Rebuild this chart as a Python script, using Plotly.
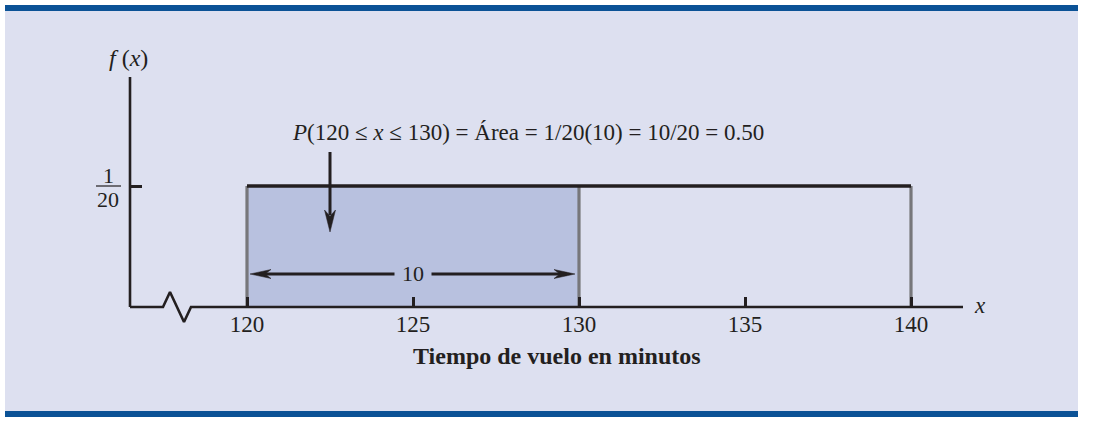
import plotly.graph_objects as go

# ---------------- data ----------------
lower_bound = 120
upper_bound = 140
density = 1 / 20
interval = [120, 130]
x_ticks = [120, 125, 130, 135, 140]
x_tick_labels = ["120", "125", "130", "135", "140"]
pointer_x = 122.5
width_label = "10"
prob_text = "<i>P</i>(120 ≤ <i>x</i> ≤ 130) = Área = 1/20(10) = 10/20 = 0.50"
x_title = "<b>Tiempo de vuelo en minutos</b>"
y_label = "<i>f</i> (<i>x</i>)"
x_label = "<i>x</i>"

# ---------------- layout geometry ----------------
W, H = 1093, 426
PX_X0, PX_PER_X = 247, 33.2      # pixel of x=lower_bound, pixels per unit
PX_Y0, PX_PER_Y = 307, 2420      # pixel of y=0, pixels per unit


def px2x(px):
    return lower_bound + (px - PX_X0) / PX_PER_X


def px2y(py):
    return (PX_Y0 - py) / PX_PER_Y


def x2px(x):
    return PX_X0 + (x - lower_bound) * PX_PER_X


def y2px(y):
    return PX_Y0 - y * PX_PER_Y


INK = "#231f20"
GRAY = "#77777b"
SHADE = "#b8c1df"
PANEL = "#dde0f0"
BAND = "#0b5296"
FONT = "Liberation Serif"


def head(tip_px, dir_xy, length=21, width=10):
    tx, ty = tip_px
    dx, dy = dir_xy
    nx, ny = -dy, dx
    bx, by = tx - length * dx, ty - length * dy
    c1 = (bx + nx * width / 2, by + ny * width / 2)
    c2 = (bx - nx * width / 2, by - ny * width / 2)
    notch = (tx - 0.72 * length * dx, ty - 0.72 * length * dy)
    pts = [(tx, ty), c1, notch, c2, (tx, ty)]
    return [px2x(p[0]) for p in pts], [px2y(p[1]) for p in pts]


fig = go.Figure()

# shaded probability area
fig.add_trace(go.Scatter(x=interval, y=[density, density], mode="lines",
                         fill="tozeroy", fillcolor=SHADE,
                         line=dict(width=0), hoverinfo="skip"))

# gray vertical edges
vx, vy = [], []
for v in [lower_bound, interval[1], upper_bound]:
    vx += [v, v, None]
    vy += [0, density, None]
fig.add_trace(go.Scatter(x=vx, y=vy, mode="lines",
                         line=dict(color=GRAY, width=3.2), hoverinfo="skip"))

# density line
fig.add_trace(go.Scatter(x=[lower_bound, upper_bound], y=[density, density],
                         mode="lines", line=dict(color=INK, width=3.6),
                         hoverinfo="skip"))

# x axis line with break
ax_x = [px2x(130), px2x(163), px2x(170), px2x(184), px2x(191), px2x(963)]
ax_y = [0, 0, px2y(292), px2y(322), 0, 0]
fig.add_trace(go.Scatter(x=ax_x, y=ax_y, mode="lines",
                         line=dict(color=INK, width=2.6), hoverinfo="skip"))
# y axis line
fig.add_trace(go.Scatter(x=[px2x(130), px2x(130)], y=[0, px2y(77)], mode="lines",
                         line=dict(color=INK, width=2.6), hoverinfo="skip"))

# pointer arrow (down)
fig.add_trace(go.Scatter(x=[pointer_x, pointer_x], y=[px2y(152), px2y(215)],
                         mode="lines", line=dict(color=INK, width=3),
                         hoverinfo="skip"))
hx, hy = head((x2px(pointer_x), 232), (0, 1), length=22, width=11)
fig.add_trace(go.Scatter(x=hx, y=hy, mode="lines", fill="toself",
                         fillcolor=INK, line=dict(color=INK, width=0.5),
                         hoverinfo="skip"))

# width arrow
arrow_py = 274
fig.add_trace(go.Scatter(x=[px2x(x2px(interval[0]) + 12), px2x(x2px(interval[1]) - 12)],
                         y=[px2y(arrow_py)] * 2, mode="lines",
                         line=dict(color=INK, width=3), hoverinfo="skip"))
for tip, d in [(x2px(interval[0]) + 3, (-1, 0)), (x2px(interval[1]) - 4, (1, 0))]:
    hx, hy = head((tip, arrow_py), d, length=21, width=9)
    fig.add_trace(go.Scatter(x=hx, y=hy, mode="lines", fill="toself",
                             fillcolor=INK, line=dict(color=INK, width=0.5),
                             hoverinfo="skip"))

annotations = [
    dict(x=sum(interval) / 2, y=px2y(273), text=width_label, showarrow=False,
         font=dict(family=FONT, size=22, color=INK), bgcolor=SHADE, borderpad=7),
    dict(x=px2x(528), y=px2y(132), text=prob_text, showarrow=False,
         font=dict(family=FONT, size=23, color=INK)),
    dict(x=px2x(128), y=px2y(58), text=y_label, showarrow=False,
         font=dict(family=FONT, size=24, color=INK)),
    dict(x=px2x(980), y=px2y(305), text=x_label, showarrow=False,
         font=dict(family=FONT, size=23, color=INK)),
    dict(x=px2x(557), y=px2y(356), text=x_title, showarrow=False,
         font=dict(family=FONT, size=24, color=INK)),
    # fraction 1/20
    dict(x=px2x(108), y=px2y(175), text="1", showarrow=False,
         font=dict(family=FONT, size=22, color=INK)),
    dict(x=px2x(108), y=px2y(199), text="20", showarrow=False,
         font=dict(family=FONT, size=22, color=INK)),
]

shapes = [
    dict(type="rect", xref="paper", yref="paper", x0=5 / W, x1=1078 / W,
         y0=1 - 411 / H, y1=1 - 11 / H, fillcolor=PANEL, line=dict(width=0),
         layer="below"),
    dict(type="rect", xref="paper", yref="paper", x0=5 / W, x1=1078 / W,
         y0=1 - 11 / H, y1=1 - 5 / H, fillcolor=BAND, line=dict(width=0),
         layer="below"),
    dict(type="rect", xref="paper", yref="paper", x0=5 / W, x1=1078 / W,
         y0=1 - 417 / H, y1=1 - 411 / H, fillcolor=BAND, line=dict(width=0),
         layer="below"),
    # fraction bar
    dict(type="line", xref="paper", yref="paper", x0=96 / W, x1=121 / W,
         y0=1 - 186 / H, y1=1 - 186 / H, line=dict(color=INK, width=1.2)),
]

fig.update_layout(
    width=W, height=H,
    margin=dict(l=0, r=0, t=0, b=0),
    paper_bgcolor="white",
    plot_bgcolor="rgba(0,0,0,0)",
    showlegend=False,
    annotations=annotations,
    shapes=shapes,
    xaxis=dict(range=[px2x(0), px2x(W)], anchor="free", position=1 - PX_Y0 / H,
               showline=False, showgrid=False, zeroline=False,
               tickvals=x_ticks, ticktext=x_tick_labels,
               ticks="inside", ticklen=10, tickwidth=2.6, tickcolor=INK,
               tickfont=dict(family=FONT, size=23, color=INK),
               ticklabelstandoff=1, fixedrange=True),
    yaxis=dict(range=[px2y(H), px2y(0)], anchor="free", position=130 / W,
               showline=False, showgrid=False, zeroline=False,
               tickvals=[density], ticktext=[""],
               ticks="inside", ticklen=11, tickwidth=2.6, tickcolor=INK,
               fixedrange=True),
)

fig.write_html("out.html", config={"displayModeBar": False},
               post_script="document.body.style.margin='0';")
